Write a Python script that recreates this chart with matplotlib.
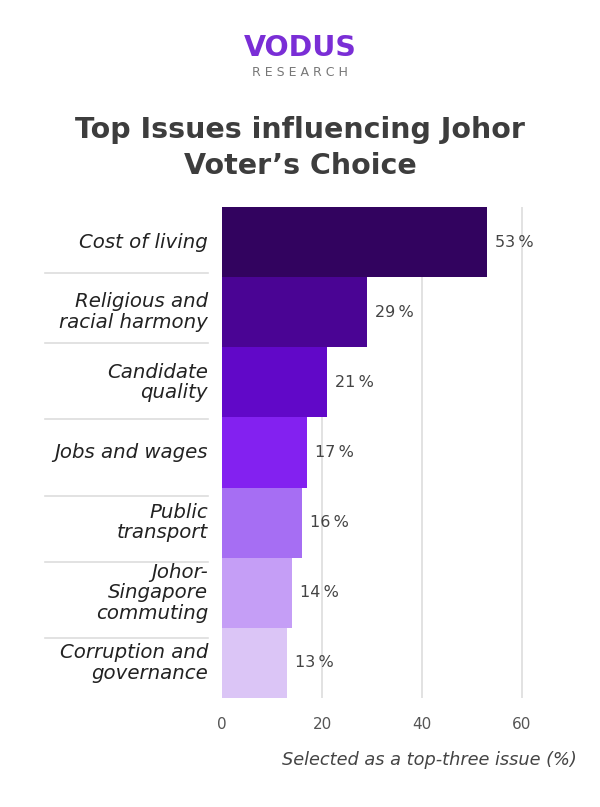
import matplotlib.pyplot as plt

# data
issues = ['Cost of living', 'Religious and\nracial harmony', 'Candidate\nquality',
          'Jobs and wages', 'Public\ntransport', 'Johor-\nSingapore\ncommuting',
          'Corruption and\ngovernance']
shares = [53, 29, 21, 17, 16, 14, 13]
bar_colors = ['#32035f', '#4a0494', '#6108c8', '#8321f0', '#a66ef3', '#c59ef6', '#dbc5f6']
xticks = [0, 20, 40, 60]
sep_y = [0.44, 1.44, 2.52, 3.62, 4.56, 5.64]  # divider lines between labels

W, H = 600, 807
fig = plt.figure(figsize=(W / 100, H / 100), dpi=100, facecolor='white')
plt.rcParams['font.family'] = ['DejaVu Sans']

# axes: x=0 at px 222, 5 px per unit; bars from y=207 to 698
x0, x1 = 222, 222 + 5 * 68
y_top, y_bot = 207, 698
ax = fig.add_axes([x0 / W, 1 - y_bot / H, (x1 - x0) / W, (y_bot - y_top) / H])
n = len(issues)
ypos = list(range(n))
ax.barh(ypos, shares, height=1.0, color=bar_colors, zorder=2)
ax.set_ylim(n - 0.5, -0.5)
ax.set_xlim(0, 68)
for s in ax.spines.values():
    s.set_visible(False)
ax.set_yticks([])
ax.set_xticks(xticks)
ax.set_xticklabels([str(t) for t in xticks], fontsize=11, color='#555555')
ax.tick_params(axis='x', length=0, pad=14)
for t in xticks[1:]:
    ax.axvline(t, color='#dddddd', lw=1.2, zorder=1)

for y, v in zip(ypos, shares):
    ax.text(v + 1.6, y, f'{v}\u2009%', va='center', ha='left', fontsize=11.5, color='#444444')

# category labels and separators on the left
for y, lab in zip(ypos, issues):
    ax.text(-2.8, y, lab, ha='right', va='center', fontsize=14.2, style='italic',
            color='#222222', linespacing=1.1, clip_on=False)
for y in sep_y:
    ax.plot([-35.4, -2.8], [y, y], color='#dddddd', lw=1.2, clip_on=False)

ax.set_xlabel('Selected as a top-three issue (%)', fontsize=12.8, style='italic',
              color='#444444')
ax.xaxis.set_label_coords((577 - x0) / (x1 - x0), -(760 - y_bot) / (y_bot - y_top))
ax.xaxis.label.set_ha('right')
ax.xaxis.label.set_va('center')

# title
fig.text(0.5, 1 - 130 / H, 'Top Issues influencing Johor', ha='center', va='center',
         fontsize=20.5, fontweight='bold', color='#3d3d3d')
fig.text(0.5, 1 - 166 / H, 'Voter\u2019s Choice', ha='center', va='center',
         fontsize=20.5, fontweight='bold', color='#3d3d3d')

# logo
fig.text(0.5, 1 - 48 / H, 'VODUS', ha='center', va='center', fontsize=20.5,
         fontweight='bold', color='#7a2ed6')
fig.text(0.5, 1 - 73 / H, 'R E S E A R C H', ha='center', va='center', fontsize=9,
         color='#777777')

fig.savefig('out.png', dpi=100, facecolor='white')
